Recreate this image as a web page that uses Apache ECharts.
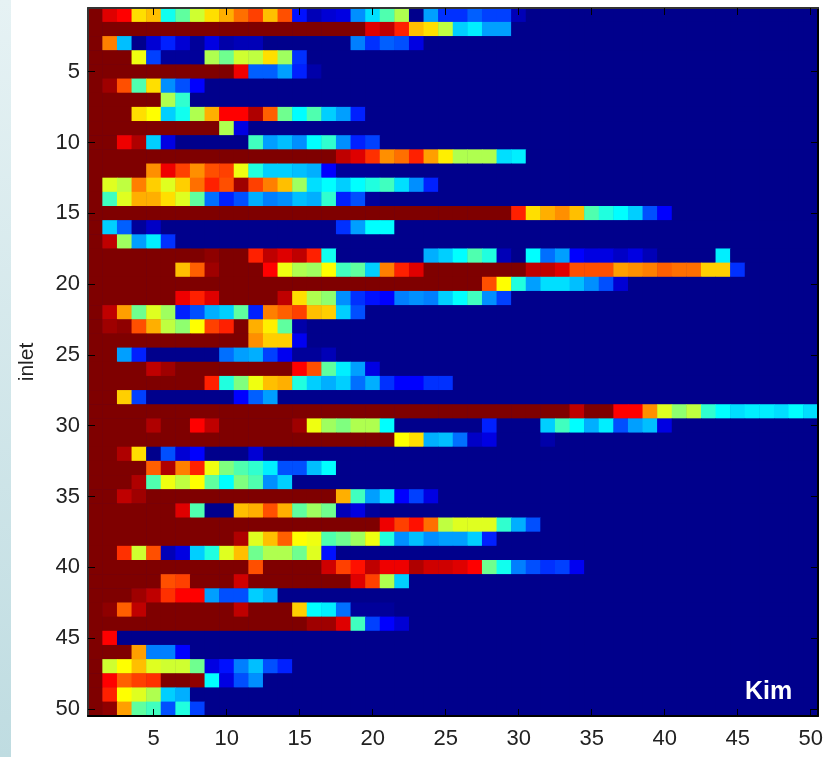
<!DOCTYPE html>
<html>
<head>
<meta charset="utf-8">
<style>html,body{margin:0;padding:0;background:#fff}#c{width:827px;height:757px}</style>
<script src="https://cdn.jsdelivr.net/npm/echarts@6/dist/echarts.min.js"></script>
</head>
<body>
<div id="c"></div>
<script>
const xCategories = Array.from({length: 50}, (_, i) => String(i + 1));
const yCategories = Array.from({length: 50}, (_, i) => String(i + 1));
const tickLabels = [5,10,15,20,25,30,35,40,45,50];
const jetColors = ['#00008c','#0000ff','#007fff','#00ffff','#7fff7f','#ffff00','#ff7f00','#ff0000','#7f0000'];
const yAxisName = 'inlet';
const tagText = 'Kim';

const row01 = [64,58,56,42,44,25,30,37,42,45,49,52,44,51,9,3,5,6,17,22,29,35,0,18,11,11,14,12,12,3];
const row02 = [64,64,64,64,64,64,64,64,64,64,64,64,64,64,64,64,64,64,64,58,60,54,44,42,36,21,23,18,18];
const row03 = [64,48,20,0,5,10,5,1,6,2,3,3,0,0,0,0,0,0,16,11,14,13,6];
const row04 = [64,64,64,39,12,1,1,1,35,31,37,36,42,34,11];
const row05 = [64,64,64,64,64,64,64,64,64,64,57,14,14,18,10,2];
const row06 = [64,62,51,29,42,17,13,8];
const row07 = [64,64,64,64,64,35,27];
const row08 = [64,64,64,42,40,21,25,35,45,56,56,61,50,31,24,29,21,18,10];
const row09 = [64,64,64,64,64,64,64,64,64,35,6];
const row10 = [64,64,57,61,21,6,0,0,0,0,0,28,18,20,17,24,27,17,10,12];
const row11 = [64,64,64,64,64,64,64,64,64,64,64,64,64,64,64,64,64,60,58,53,47,49,54,46,41,35,35,35,22,23];
const row12 = [64,64,64,64,47,57,52,47,51,52,39,26,21,21,20,19,8,1,1,1];
const row13 = [64,38,36,48,43,38,43,49,54,51,62,52,48,44,34,22,24,21,24,26,28,22,17,10];
const row14 = [64,28,38,45,45,42,38,30,15,10,13,19,16,17,20,19,27,10,13,1];
const row15 = [64,64,64,64,64,64,64,64,64,64,64,64,64,64,64,64,64,64,64,64,64,64,64,64,64,64,64,64,64,54,42,45,47,44,29,26,24,21,13,8];
const row16 = [64,21,14,1,4,0,0,0,0,0,0,0,0,0,0,0,0,11,18,24,24];
const row17 = [64,60,34,18,23,11];
const row18 = [64,64,64,64,64,64,64,64,63,64,64,54,60,58,60,54,25,0,0,0,0,0,0,19,21,24,29,26,3,0,24,15,18,8,6,6,4,6,3,0,0,0,0,23];
const row19 = [64,64,64,64,64,64,44,50,62,64,64,64,56,39,35,34,40,28,30,21,48,54,58,64,64,64,64,64,64,64,60,60,58,51,51,51,46,47,48,50,49,49,43,43,11];
const row20 = [64,64,64,64,64,64,64,64,64,64,64,64,64,64,64,64,64,64,64,64,64,64,64,64,64,64,64,51,40,26,18,22,22,20,17,13,5];
const row21 = [64,64,64,64,64,64,57,54,58,64,64,64,64,60,42,35,33,17,11,9,8,16,17,16,21,24,28,17,12];
const row22 = [64,60,46,31,38,34,10,13,19,21,30,10,48,50,52,44,43,21,13];
const row23 = [64,62,63,51,45,36,33,40,52,54,64,45,41,30,2];
const row24 = [64,64,64,64,64,64,64,64,64,64,64,47,43,43,7];
const row25 = [64,64,18,10,0,0,0,0,0,15,18,19,12,7,1,1,3];
const row26 = [64,64,64,64,60,62,64,64,64,64,64,64,64,64,56,51,30,23,18,6];
const row27 = [64,64,64,64,64,64,64,64,54,26,32,39,44,45,26,21,19,21,15,19,11,8,8,11,11];
const row28 = [64,64,43,12,0,0,0,0,0,0,8,14,18];
const row29 = [64,64,64,64,64,64,64,64,64,64,64,64,64,64,64,64,64,64,64,64,64,64,64,64,64,64,64,64,64,64,64,64,64,60,64,64,56,56,47,38,33,36,27,24,22,23,23,22,24,22];
const row30 = [64,64,64,64,61,64,64,56,60,64,64,64,64,64,62,39,34,32,35,35,24,0,0,0,0,0,0,10,0,0,0,21,28,24,19,23,13,18,20,6];
const row31 = [64,64,64,64,64,64,64,64,64,64,64,64,64,64,64,64,64,64,64,64,64,40,42,19,20,15,4,6,0,0,0,2];
const row32 = [64,64,61,42,0,13,5,8,0,0,0,5];
const row33 = [64,64,64,64,50,61,48,54,39,32,29,27,23,13,13,20,24];
const row34 = [64,64,64,61,29,39,36,40,30,24,32,29,17,21];
const row35 = [64,64,60,62,64,64,64,64,64,64,64,64,64,64,64,64,64,45,28,18,22,8,12,6];
const row36 = [64,64,64,64,64,64,58,29,0,0,44,45,51,45,30,34,31,3,6,1];
const row37 = [64,64,64,64,64,64,64,64,64,64,64,64,64,64,64,64,64,64,64,64,57,52,55,49,36,38,38,38,27,19,13];
const row38 = [64,64,64,64,64,64,64,64,64,64,61,38,44,50,40,39,29,31,34,39,26,17,20,17,18,18,21,10];
const row39 = [64,64,53,37,51,3,6,21,26,38,44,31,35,35,31,38,9];
const row40 = [64,64,64,64,64,64,64,64,64,64,64,51,64,64,64,64,59,52,55,60,57,57,61,59,59,58,56,31,25,16,13,11,12,7];
const row41 = [64,64,64,64,64,51,52,64,64,64,59,64,64,64,64,64,64,64,58,52,35,21];
const row42 = [64,64,64,62,60,53,56,56,18,13,13,21,19];
const row43 = [64,63,50,60,64,64,64,64,64,64,60,64,64,64,43,24,23,15,1,1,1];
const row44 = [64,64,64,64,64,64,64,64,64,64,64,64,64,64,64,62,62,58,28,12,8,5];
const row45 = [64,56];
const row46 = [64,64,64,46,16,16,8];
const row47 = [64,37,40,44,38,37,37,31,6,9,16,20,13,10];
const row48 = [64,56,50,52,53,64,64,63,24,6,13,17];
const row49 = [64,54,40,38,35,21,19];
const row50 = [64,63,46,30,28,13,26,12];

const rows = [row01,row02,row03,row04,row05,row06,row07,row08,row09,row10,
  row11,row12,row13,row14,row15,row16,row17,row18,row19,row20,
  row21,row22,row23,row24,row25,row26,row27,row28,row29,row30,
  row31,row32,row33,row34,row35,row36,row37,row38,row39,row40,
  row41,row42,row43,row44,row45,row46,row47,row48,row49,row50];

const cells = [];
rows.forEach((r, y) => {
  xCategories.forEach((_, x) => cells.push([x, y, r[x] === undefined ? 0 : r[x]]));
});

const showTick = (i, v) => tickLabels.includes(+v);
const font = '"Liberation Sans", Arial, sans-serif';
const tick = {show: true, inside: true, length: 7, alignWithLabel: true, interval: showTick, lineStyle: {color: '#000', width: 1}};

const chart = echarts.init(document.getElementById('c'), null, {renderer: 'canvas'});
chart.setOption({
  animation: false,
  backgroundColor: '#ffffff',
  grid: {left: 88, top: 8, width: 730, height: 708, containLabel: false, backgroundColor: '#00008c', show: true, borderWidth: 0},
  title: {text: tagText, left: 740, top: 675, textStyle: {color: '#ffffff', fontFamily: font, fontWeight: 'bold', fontSize: 25}},
  graphic: [{
    type: 'rect', left: 0, top: 0, silent: true,
    shape: {width: 11, height: 757},
    style: {fill: new echarts.graphic.LinearGradient(0, 0, 0, 1, [
      {offset: 0, color: '#e6f2f4'}, {offset: 1, color: '#bfdce1'}
    ])}
  }],
  xAxis: [{
    type: 'category', data: xCategories, position: 'bottom', z: 50,
    axisLine: {show: true, lineStyle: {color: '#000', width: 2}},
    axisTick: tick,
    axisLabel: {interval: showTick, margin: 12, color: '#222', fontFamily: font, fontSize: 22},
    splitLine: {show: false}
  }, {
    type: 'category', data: xCategories, position: 'top', z: 50,
    axisLine: {show: true, lineStyle: {color: '#333', width: 2}},
    axisTick: tick,
    axisLabel: {show: false}, splitLine: {show: false}
  }],
  yAxis: [{
    type: 'category', data: yCategories, inverse: true, position: 'left', z: 50,
    name: yAxisName, nameLocation: 'middle', nameGap: 50, nameRotate: 90,
    nameTextStyle: {color: '#222', fontFamily: font, fontSize: 21},
    axisLine: {show: true, lineStyle: {color: '#333', width: 2}},
    axisTick: tick,
    axisLabel: {interval: showTick, margin: 8, color: '#222', fontFamily: font, fontSize: 22},
    splitLine: {show: false}
  }, {
    type: 'category', data: yCategories, inverse: true, position: 'right', z: 50,
    axisLine: {show: true, lineStyle: {color: '#000', width: 2}},
    axisTick: tick,
    axisLabel: {show: false}, splitLine: {show: false}
  }],
  visualMap: {show: false, type: 'continuous', min: 0, max: 64, dimension: 2, seriesIndex: 0, inRange: {color: jetColors}},
  series: [{
    type: 'heatmap', data: cells, xAxisIndex: 0, yAxisIndex: 0,
    progressive: 0, silent: true, label: {show: false},
    itemStyle: {borderWidth: 0}, emphasis: {disabled: true}
  }]
});
</script>
</body>
</html>
